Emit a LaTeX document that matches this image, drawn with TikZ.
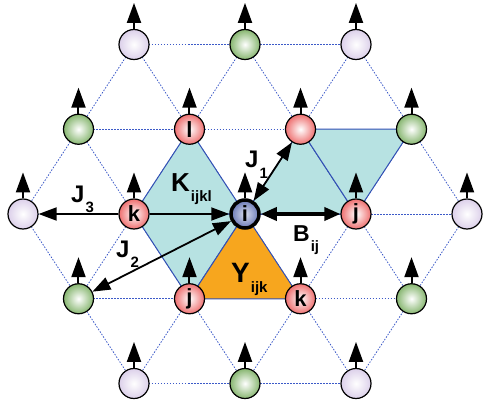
\documentclass[tikz,border=0pt]{standalone}
\usepackage{fontspec}
\setmainfont{Liberation Sans}
\usetikzlibrary{arrows.meta}

\definecolor{latblue}{RGB}{60,90,200}
\definecolor{edgeblue}{RGB}{50,80,180}
\definecolor{plaqcyan}{RGB}{183,226,226}
\definecolor{triorange}{RGB}{247,166,30}
\definecolor{sitered}{RGB}{238,112,112}
\definecolor{sitegreen}{RGB}{135,182,112}
\definecolor{sitelav}{RGB}{220,208,234}
\definecolor{siteblue}{RGB}{105,120,182}

% coupling label: big letter, lowered index
\newcommand{\coup}[3][24]{{\fontsize{#1}{#1}\selectfont\bfseries #2}\kern1pt\raisebox{-10pt}{\fontsize{15}{15}\selectfont\bfseries #3}}

\begin{document}
\begin{tikzpicture}[x=1pt, y=1pt,
    site/.style={circle, draw=black, line width=1.2pt, minimum size=30pt, inner sep=0pt,
                 inner color=white, font=\fontsize{22}{22}\selectfont\bfseries},
    lattice/.style={latblue, line width=0.8pt, dash pattern=on 1.5pt off 1.5pt},
    plaq/.style={draw=edgeblue, line width=1pt},
    spin/.style={line width=2pt, -{Triangle[length=20pt, width=14pt]}},
    coupling/.style={line width=1.8pt, -{Triangle[length=18pt, width=13pt]}},
    twoway/.style={line width=1.8pt, {Triangle[length=18pt, width=13pt]}-{Triangle[length=18pt, width=13pt]}},
    field/.style={line width=3.5pt, {Triangle[length=16pt, width=13pt]}-{Triangle[length=16pt, width=13pt]}}
  ]

  \useasboundingbox (-245,-193) rectangle (250,214);

  % lattice points
  \foreach \c/\r in {2/4,4/4,6/4, 1/3,3/3,5/3,7/3, 0/2,2/2,4/2,6/2,8/2, 1/1,3/1,5/1,7/1, 2/0,4/0,6/0}
    \coordinate (p\c\r) at ({55.5*(\c-4)}, {84.75*(\r-2)});

  % nearest neighbour bonds
  \foreach \a/\b in {24/44,44/64, 13/33,33/53,53/73, 02/22,22/42,42/62,62/82, 11/31,31/51,51/71, 20/40,40/60,
      24/13,24/33,44/33,44/53,64/53,64/73,
      13/02,13/22,33/22,33/42,53/42,53/62,73/62,73/82,
      02/11,22/11,22/31,42/31,42/51,62/51,62/71,82/71,
      11/20,31/20,31/40,51/40,51/60,71/60}
    \draw[lattice] (p\a) -- (p\b);

  % four-spin plaquettes (two triangles each)
  \filldraw[plaq, fill=plaqcyan] (p22) -- (p33) -- (p42) -- cycle;
  \filldraw[plaq, fill=plaqcyan] (p22) -- (p42) -- (p31) -- cycle;
  \filldraw[plaq, fill=plaqcyan] (p42) -- (p53) -- (p62) -- cycle;
  \filldraw[plaq, fill=plaqcyan] (p53) -- (p73) -- (p62) -- cycle;

  % three-spin triangle
  \filldraw[plaq, fill=triorange] (p42) -- (p31) -- (p51) -- cycle;

  % sites
  \foreach \c/\r/\col/\txt in {2/4/sitelav/{}, 4/4/sitegreen/{}, 6/4/sitelav/{},
      1/3/sitegreen/{}, 3/3/sitered/l, 5/3/sitered/{}, 7/3/sitegreen/{},
      0/2/sitelav/{}, 2/2/sitered/k, 6/2/sitered/j, 8/2/sitelav/{},
      1/1/sitegreen/{}, 3/1/sitered/j, 5/1/sitered/k, 7/1/sitegreen/{},
      2/0/sitelav/{}, 4/0/sitegreen/{}, 6/0/sitelav/{}}
    \node[site, outer color=\col] (s\c\r) at (p\c\r) {\txt};
  \node[site, line width=3.5pt, minimum size=28pt, inner color=siteblue!25!white, outer color=siteblue] (s42) at (p42) {i};

  % spins
  \foreach \n in {24,44,64, 13,33,53,73, 02,22,42,62,82, 11,31,51,71, 20,40,60}
    \draw[spin] (s\n.north) -- ++(0,26);

  % couplings
  \draw[coupling] (s22) -- (s02);
  \draw[coupling] (s22) -- (s42);
  \draw[twoway] (s11) -- (s42);
  \draw[twoway] (s42) -- (s53);
  \draw[field] (s42) -- (s62);

  % labels
  \node[anchor=base west, inner sep=0pt] (lj1) at (0,46) {\coup{J}{1}};
  \node[anchor=base west, inner sep=0pt] (lj2) at (-129,-43) {\coup{J}{2}};
  \node[anchor=base west, inner sep=0pt] (lj3) at (-174,12) {\coup{J}{3}};
  \node[anchor=base west, inner sep=0pt] (lk) at (-74,23) {\coup[26]{K}{ijkl}};
  \node[anchor=base west, inner sep=0pt] (ly) at (-14,-68) {\coup[28]{Y}{ijk}};
  \node[anchor=base west, inner sep=0pt] (lb) at (48,-27) {\coup[23]{B}{ij}};

\end{tikzpicture}
\end{document}
